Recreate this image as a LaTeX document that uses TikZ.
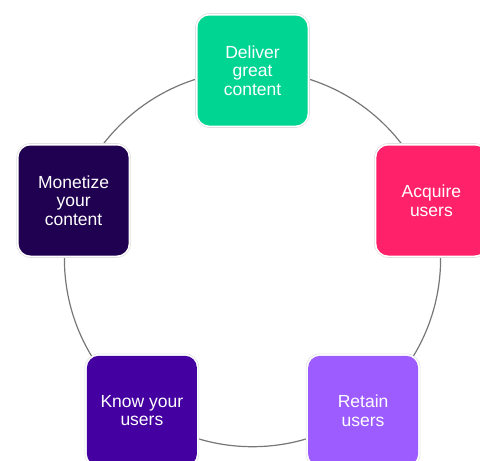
\documentclass[tikz,border=0pt]{standalone}
\usepackage{fontspec}
\setmainfont{Liberation Sans}
\definecolor{cgreen}{HTML}{00D591}
\definecolor{cpink}{HTML}{FF2169}
\definecolor{cviolet}{HTML}{9D5CFF}
\definecolor{cindigo}{HTML}{4400A0}
\definecolor{cdark}{HTML}{200050}
\definecolor{cring}{HTML}{777777}
\begin{document}
\begin{tikzpicture}[x=1pt,y=-1pt,
  halo/.style={draw=black!12,line width=0.6pt,fill=white,rounded corners=14pt,minimum width=114pt,minimum height=114pt,inner sep=0pt},
  stagebox/.style={fill=#1,draw=none,rounded corners=12pt,minimum width=110pt,minimum height=110pt,inner sep=0pt,
    text=white,align=center,font=\fontsize{17.5}{18.5}\selectfont}]
\useasboundingbox (0,0) rectangle (480,461);
\coordinate (c) at (252.5,258.6);
\draw[cring,line width=1.2pt] (c) circle[radius=188.1pt];
\foreach \n/\x/\y in {a/252.5/70.5,b/431.4/200.5,cc/363.1/410.8,d/141.9/410.8,e/73.6/200.5}{
  \node[halo] (h\n) at (\x,\y) {};
}
\node[stagebox=cgreen] (deliver) at (252.5,70.5) {Deliver\\great\\content};
\node[stagebox=cpink] (acquire) at (431.4,200.5) {Acquire\\users};
\node[stagebox=cviolet] (retain) at (363.1,410.8) {Retain\\users};
\node[stagebox=cindigo] (know) at (141.9,410.8) {Know your\\users};
\node[stagebox=cdark] (monetize) at (73.6,200.5) {Monetize\\your\\content};
\end{tikzpicture}
\end{document}
